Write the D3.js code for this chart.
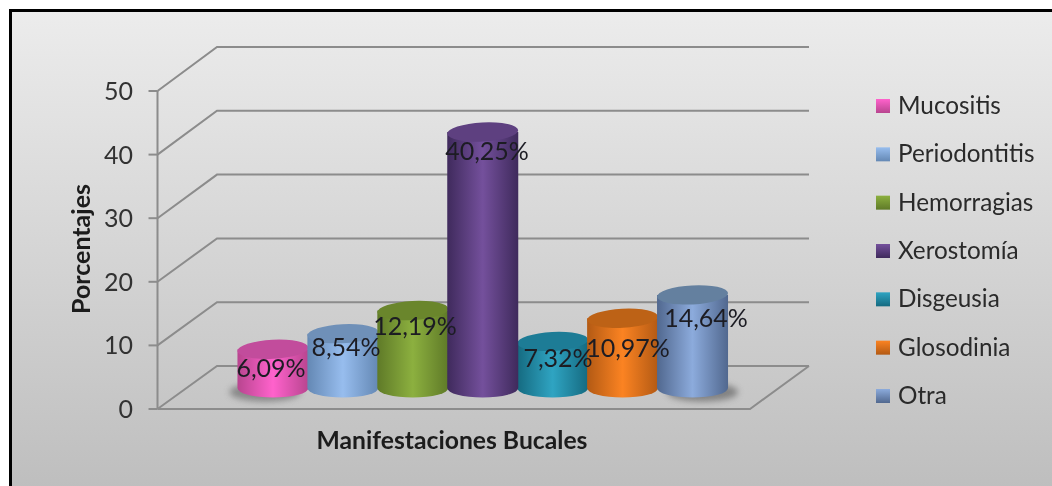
<!DOCTYPE html>
<html><head><meta charset="utf-8">
<script src="https://cdnjs.cloudflare.com/ajax/libs/d3/7.8.5/d3.min.js"></script>
<style>html,body{margin:0;padding:0;background:#fff;overflow:hidden}svg{display:block}text{font-family:Lato,sans-serif}</style>
</head><body><div id="c"></div>
<script>
const categories=["Mucositis","Periodontitis","Hemorragias","Xerostomía","Disgeusia","Glosodinia","Otra"];
const values=[6.09,8.54,12.19,40.25,7.32,10.97,14.64];
const labels=["6,09%","8,54%","12,19%","40,25%","7,32%","10,97%","14,64%"];
const ticks=[0,10,20,30,40,50];
const sideCol=[["#b8458f","#ff62cc","#c24c9c"],["#6488b4","#97bdee","#6f90b8"],["#5f7a28","#8cb03f","#6a862c"],["#3f2a5c","#74509c","#5e4080"],["#156a80","#2fa4c2","#1d7c96"],["#b35a14","#fb8322","#bd6216"],["#51688f","#8cabdc","#64809f"]];
const W=1052,H=486;
const svg=d3.select("#c").append("svg").attr("width",W).attr("height",H);
const defs=svg.append("defs");
const bg=defs.append("linearGradient").attr("id","bg").attr("x1",0).attr("y1",0).attr("x2",0).attr("y2",1);
bg.append("stop").attr("offset",0).attr("stop-color","#ececec");
bg.append("stop").attr("offset",1).attr("stop-color","#bdbdbd");
defs.append("filter").attr("id","blur").attr("x","-30%").attr("y","-50%").attr("width","160%").attr("height","200%").append("feGaussianBlur").attr("stdDeviation",3);
defs.append("filter").attr("id","soft").attr("filterUnits","userSpaceOnUse").attr("x",0).attr("y",0).attr("width",W).attr("height",H).append("feGaussianBlur").attr("stdDeviation",0.4);

svg.append("rect").attr("x",10.5).attr("y",10.5).attr("width",1060).attr("height",490).attr("fill","url(#bg)").attr("stroke","#000").attr("stroke-width",3);

const yFront=d3.scaleLinear().domain([0,50]).range([409,91]);
const yBack=d3.scaleLinear().domain([0,50]).range([366,47]);
const yBar=d3.scaleLinear().domain([0,50]).range([388,70]);
const xFront=157.5,xBack=217,xEnd=809;
const grid=svg.append("g").attr("fill","none").attr("stroke","#8c8c8c").attr("stroke-width",2).attr("filter","url(#soft)");
ticks.forEach(t=>{
  grid.append("path").attr("d",d3.line()([[xFront,yFront(t)],[xBack,yBack(t)],[xEnd,yBack(t)]]));
  grid.append("path").attr("d",d3.line()([[xFront-9,yFront(t)],[xFront,yFront(t)]]));
});
grid.append("path").attr("d",d3.line()([[xFront,yFront(0)],[xFront,yFront(50)]]));
grid.append("path").attr("d",d3.line()([[xFront,yFront(0)],[750,yFront(0)],[xEnd,yBack(0)]]));

const x=d3.scaleBand().domain(categories).range([238,727.5]).padding(0);
const rx=35.5,ry=9.5;
const bars=svg.append("g");
bars.append("ellipse").attr("cx",x("Mucositis")+x.bandwidth()/2-8).attr("cy",yBar(0)+4).attr("rx",rx).attr("ry",ry).attr("fill","#555").attr("opacity",.55).attr("filter","url(#blur)");
bars.append("ellipse").attr("cx",x("Otra")+x.bandwidth()/2+10).attr("cy",yBar(0)+4).attr("rx",rx).attr("ry",ry).attr("fill","#555").attr("opacity",.6).attr("filter","url(#blur)");
const order=[0,1,2,4,5,6,3];
order.forEach(i=>{
  const c=categories[i],v=values[i],cx=x(c)+x.bandwidth()/2,top=yBar(v),base=yBar(0);
  const [dk,lt,tp]=sideCol[i];
  const id="g"+i;
  const g=defs.append("linearGradient").attr("id",id);
  g.append("stop").attr("offset",0).attr("stop-color",dk);
  g.append("stop").attr("offset",.5).attr("stop-color",lt);
  g.append("stop").attr("offset",1).attr("stop-color",dk);
  const lg=defs.append("linearGradient").attr("id","l"+i).attr("x1",0).attr("y1",0).attr("x2",0).attr("y2",1);
  lg.append("stop").attr("offset",0).attr("stop-color",lt);
  lg.append("stop").attr("offset",1).attr("stop-color",dk);
  bars.append("path").attr("d",`M${cx-rx},${top}V${base}A${rx},${ry} 0 0 0 ${cx+rx},${base}V${top}Z`).attr("fill",`url(#${id})`);
  bars.append("ellipse").attr("cx",cx).attr("cy",top).attr("rx",rx).attr("ry",ry).attr("fill",tp).attr("transform",`rotate(-3 ${cx} ${top})`);
});

const texts=svg.append("g").attr("filter","url(#soft)");
texts.append("g").selectAll("text").data(ticks).join("text")
  .attr("x",133).attr("y",d=>yFront(d)+9).attr("text-anchor","end").attr("font-size",25).attr("fill","#333").text(d=>d);
const labelPos=[[271,377],[346,356],[415,335],[487,160],[558,367],[628,357],[706,327]];
texts.append("g").selectAll("text").data(labels).join("text")
  .attr("x",(d,i)=>labelPos[i][0]).attr("y",(d,i)=>labelPos[i][1]).attr("text-anchor","middle").attr("font-size",25).attr("fill","#1c1c24").text(d=>d);

texts.append("text").attr("transform","translate(90,249) rotate(-90)").attr("text-anchor","middle").attr("font-size",25).attr("font-weight",700).attr("fill","#1c1c1c").text("Porcentajes");
texts.append("text").attr("x",452).attr("y",449).attr("text-anchor","middle").attr("font-size",24.7).attr("font-weight",700).attr("fill","#1c1c1c").text("Manifestaciones Bucales");

const legY=d3.scalePoint().domain(categories).range([106,396]);
const leg=svg.append("g");
categories.forEach((c,i)=>{
  leg.append("rect").attr("x",876).attr("y",legY(c)-7).attr("width",14).attr("height",14).attr("fill",`url(#l${i})`);
  texts.append("text").attr("x",898).attr("y",legY(c)+8).attr("font-size",24.3).attr("fill","#2a2a2a").text(c);
});
</script></body></html>
